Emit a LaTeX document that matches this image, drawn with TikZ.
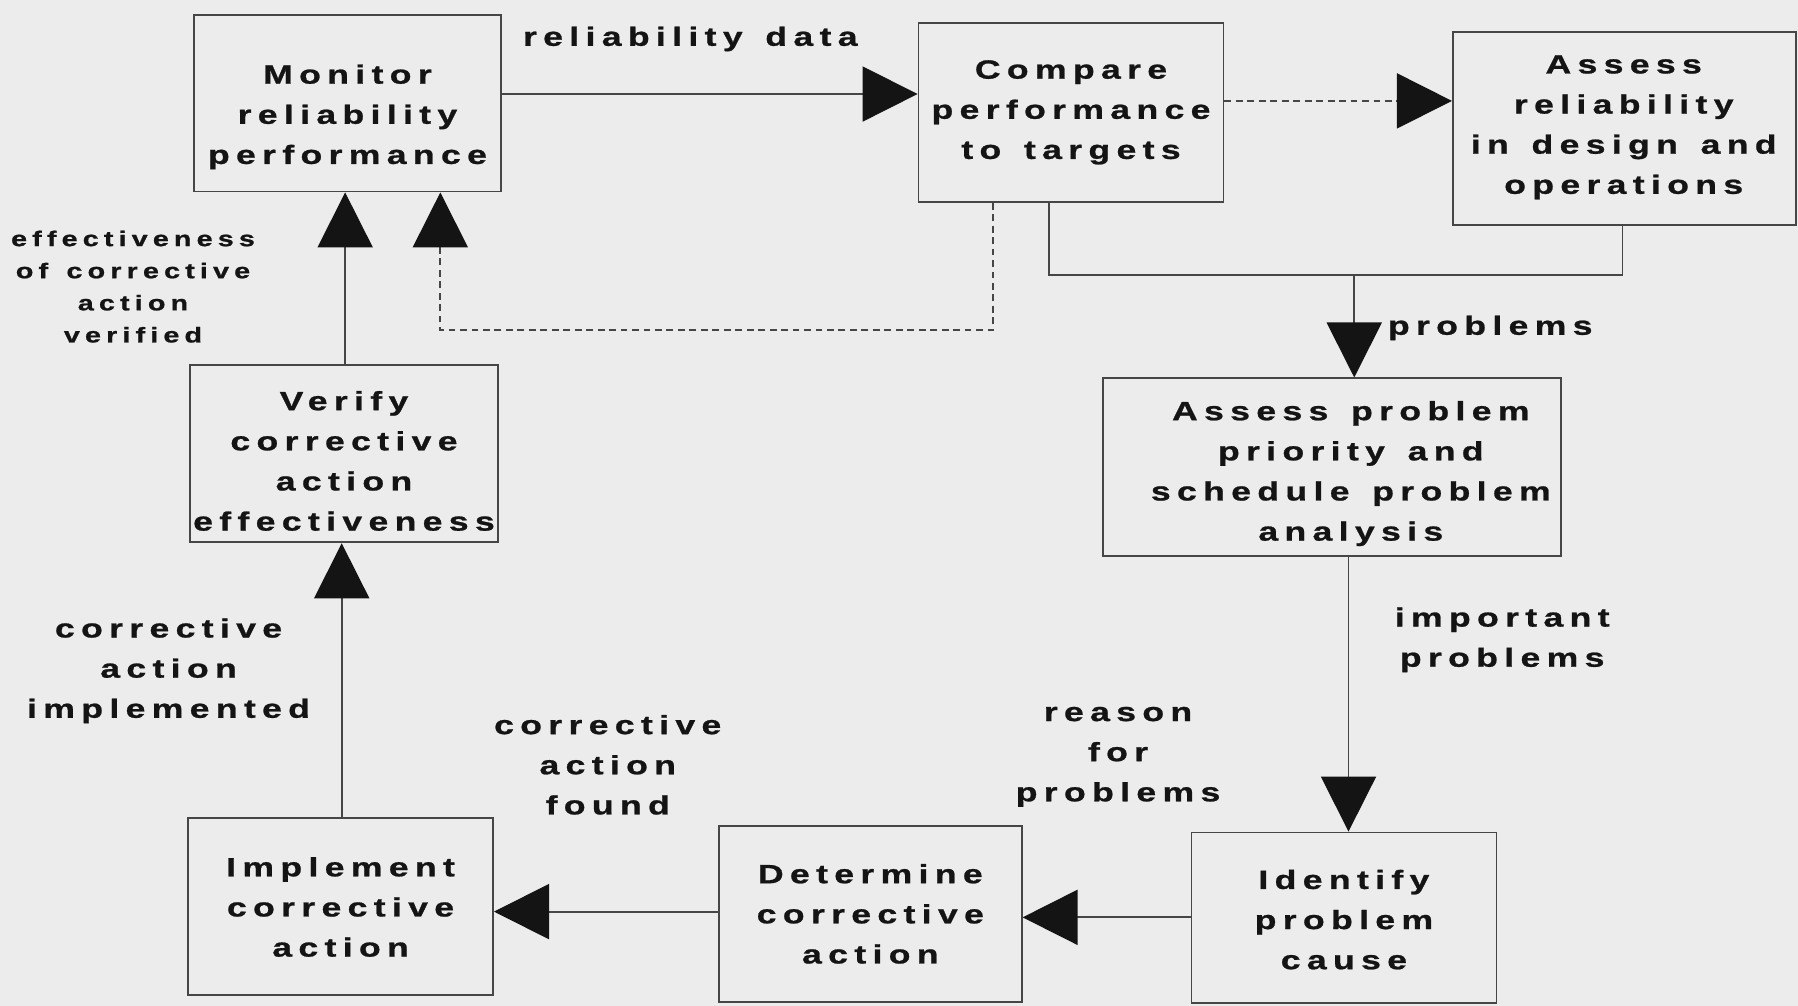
\documentclass[tikz,border=0pt]{standalone}
\usepackage{fontspec}
\usetikzlibrary{arrows.meta}
\newfontfamily\diagfont{Liberation Sans Bold}[FakeStretch=1.35,LetterSpace=24,WordSpace=1.4,FakeBold=0.9]
\definecolor{bgc}{RGB}{236,236,236}
\definecolor{inkc}{RGB}{20,20,20}
\definecolor{linec}{RGB}{70,70,70}
\tikzset{
  box/.style={draw=linec,line width=0.8pt,rectangle,inner sep=0pt},
  txt/.style={align=center,text=inkc,font=\diagfont\fontsize{11.5}{17.5}\selectfont,inner sep=0pt},
  smalltxt/.style={align=center,text=inkc,font=\diagfont\fontsize{9.3}{14}\selectfont,inner sep=0pt},
  conn/.style={draw=linec,line width=0.8pt},
  arr/.style={conn,-{Triangle[length=24pt,width=24pt,color=inkc]}},
  dsh/.style={dash pattern=on 3pt off 2pt},
}
\begin{document}
\begin{tikzpicture}[x=0.5pt,y=-0.5pt]
\fill[bgc] (0,0) rectangle (1568,877);
\useasboundingbox (0,0) rectangle (1568,877);
% boxes
\node[box,minimum width=134pt,minimum height=77pt] (mon) at (303,90) {};
\node[box,minimum width=133pt,minimum height=78pt] (cmp) at (934,98) {};
\node[box,minimum width=149.5pt,minimum height=84pt] (arel) at (1416.5,112) {};
\node[box,minimum width=199.5pt,minimum height=77.5pt] (apr) at (1161.5,407.5) {};
\node[box,minimum width=133pt,minimum height=74.5pt] (idf) at (1172,800.5) {};
\node[box,minimum width=132pt,minimum height=77pt] (det) at (759,797) {};
\node[box,minimum width=133pt,minimum height=77.5pt] (imp) at (297,790.5) {};
\node[box,minimum width=134pt,minimum height=77.5pt] (ver) at (300,395.5) {};
% box texts
\node[txt] (monT) at (303,102) {Monitor\\reliability\\performance};
\node[txt] (cmpT) at (934,98) {Compare\\performance\\to targets};
\node[txt] (arelT) at (1416,111) {Assess\\reliability\\in design and\\operations};
\node[txt] (aprT) at (1178,413) {Assess problem\\priority and\\schedule problem\\analysis};
\node[txt] (idfT) at (1172,802) {Identify\\problem\\cause};
\node[txt] (detT) at (759,797) {Determine\\corrective\\action};
\node[txt] (impT) at (297,791) {Implement\\corrective\\action};
\node[txt] (verT) at (300,402) {Verify\\corrective\\action\\effectiveness};
% labels
\node[txt] (l1) at (602,34) {reliability data};
\node[txt,anchor=west] (l2) at (1210,286) {problems};
\node[smalltxt] (l3) at (116,250) {effectiveness\\of corrective\\action\\verified};
\node[txt] (l4) at (147,585) {corrective\\action\\implemented};
\node[txt] (l5) at (530,667) {corrective\\action\\found};
\node[txt] (l6) at (975,660) {reason\\for\\problems};
\node[txt] (l7) at (1310,558) {important\\problems};
% helper coordinates
\coordinate (ya) at (600,82);
\coordinate (yb) at (1150,88);
\coordinate (xc) at (915,0);
\coordinate (xd) at (1415,0);
\coordinate (j) at (1181,240);
\coordinate (xf) at (866,288);
\coordinate (xg) at (384,288);
\coordinate (xh) at (301,0);
\coordinate (xi) at (298,0);
\coordinate (yk) at (0,795);
\coordinate (yl) at (0,800);
\coordinate (xm) at (1176,0);
% connectors
\draw[arr] (mon.east |- ya) -- (cmp.west |- ya);
\draw[arr,dsh] (cmp.east |- yb) -- (arel.west |- yb);
\draw[conn] (cmp.south -| xc) -- (xc |- j) -- (xd |- j) -- (arel.south -| xd);
\draw[arr] (j) -- (apr.north -| j);
\draw[arr,dsh] (cmp.south -| xf) -- (xf) -- (xg) -- (mon.south -| xg);
\draw[arr] (ver.north -| xh) -- (mon.south -| xh);
\draw[arr] (imp.north -| xi) -- (ver.south -| xi);
\draw[arr] (det.west |- yk) -- (imp.east |- yk);
\draw[arr] (idf.west |- yl) -- (det.east |- yl);
\draw[arr] (apr.south -| xm) -- (idf.north -| xm);
\end{tikzpicture}
\end{document}
